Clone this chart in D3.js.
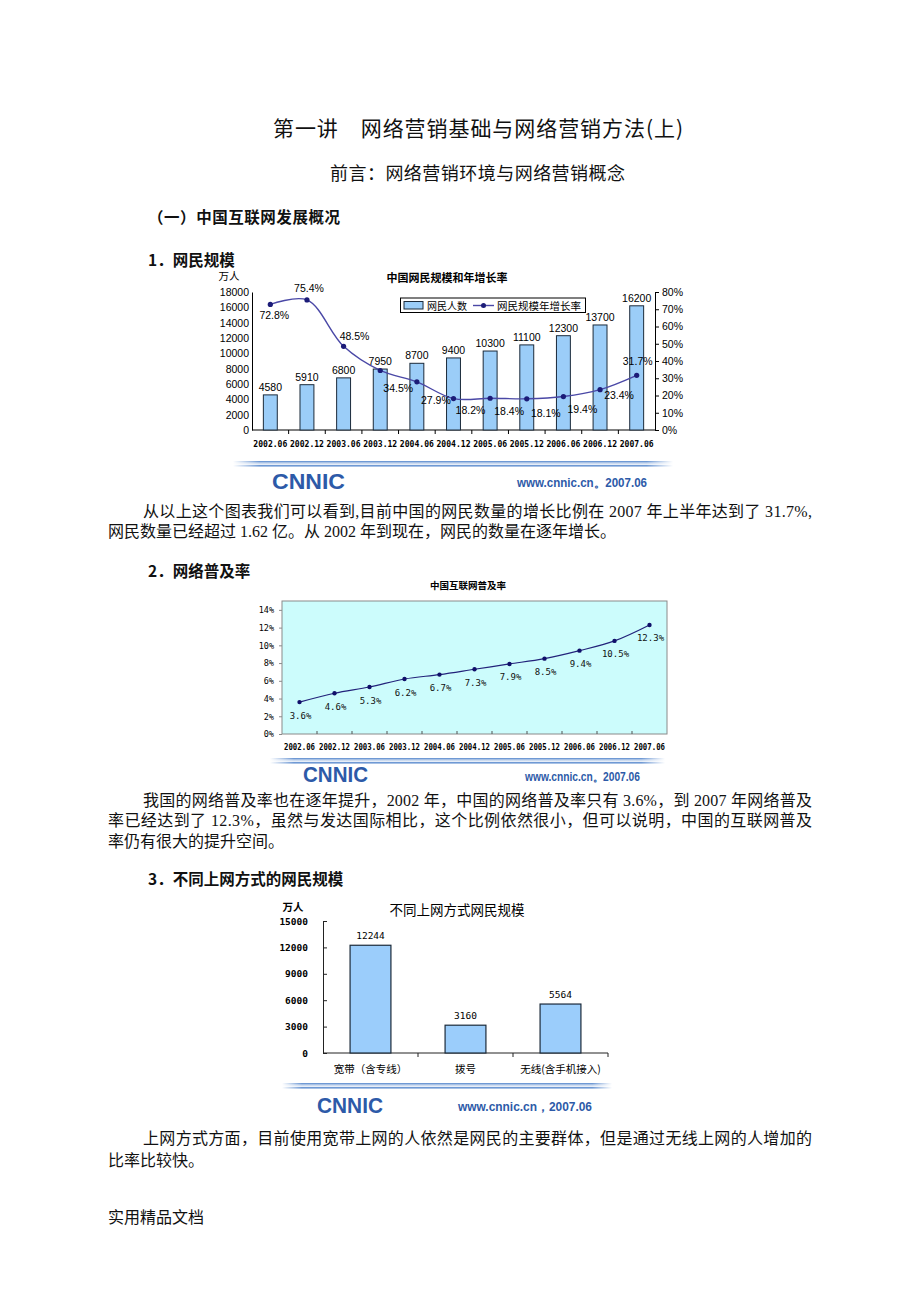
<!DOCTYPE html>
<meta charset="UTF-8">
<style>
body { margin: 0; background: #fff; }
svg { display: block; }
.cjk { font-family: "Noto Sans CJK SC", sans-serif; }
.body-text { font-family: "Liberation Serif", "Noto Sans CJK SC", serif; font-size: 16px; fill: #111; }
.arial { font-family: "Liberation Sans", Arial, sans-serif; }
.mono { font-family: "DejaVu Sans Mono", monospace; }
</style>
<body>
<script src="https://cdnjs.cloudflare.com/ajax/libs/d3/7.8.5/d3.min.js"></script>
<script>
// ---- chart 1 / chart 2 categories ----
const periods = ["2002.06", "2002.12", "2003.06", "2003.12", "2004.06", "2004.12",
                 "2005.06", "2005.12", "2006.06", "2006.12", "2007.06"];

// chart 1: netizens (10k people) and yearly growth rate (%)
const netizens = [4580, 5910, 6800, 7950, 8700, 9400, 10300, 11100, 12300, 13700, 16200];
const growthRate = [72.8, 75.4, 48.5, 34.5, 27.9, 18.2, 18.4, 18.1, 19.4, 23.4, 31.7];
const netizenTicks = [0, 2000, 4000, 6000, 8000, 10000, 12000, 14000, 16000, 18000];
const rateTicks = [0, 10, 20, 30, 40, 50, 60, 70, 80];

// chart 2: internet penetration (%)
const penetration = [3.6, 4.6, 5.3, 6.2, 6.7, 7.3, 7.9, 8.5, 9.4, 10.5, 12.3];
const penetrationTicks = [0, 2, 4, 6, 8, 10, 12, 14];

// chart 3: netizens by access type (10k people)
const accessTypes = ["宽带（含专线）", "拨号", "无线(含手机接入)"];
const accessUsers = [12244, 3160, 5564];
const accessTicks = [0, 3000, 6000, 9000, 12000, 15000];

// where the growth-rate labels sit relative to their point (layout only)
const rateLabelDx = [4, 2, 11, 18, 19, 17, 19, 19, 19, 19, 1];
const rateLabelDy = [11, -12, -10, 18, 18, 11, 13, 14, 12, 5, -14];

const W = 920, H = 1302;
const svg = d3.select("body").append("svg").attr("width", W).attr("height", H);

const defs = svg.append("defs");
const sep = defs.append("linearGradient").attr("id", "sep");
sep.selectAll("stop").data([[0, 0], [0.06, 1], [0.94, 1], [1, 0]]).join("stop")
  .attr("offset", d => d[0]).attr("stop-color", "#6f99d4").attr("stop-opacity", d => d[1]);

// ---------- page text ----------
function line(x, y, s, cls, size, weight, len) {
  const t = svg.append("text").attr("class", cls).attr("x", x).attr("y", y)
    .attr("dominant-baseline", "central").attr("font-size", size)
    .attr("font-weight", weight || "normal").attr("fill", "#111").text(s);
  if (len) t.attr("textLength", len).attr("lengthAdjust", "spacing");
  return t;
}

line(273, 127, "第一讲　网络营销基础与网络营销方法(上)", "cjk", 21, "normal", 410);
line(330, 172, "前言：网络营销环境与网络营销概念", "cjk", 18, "normal", 295);
line(148, 216, "（一）中国互联网发展概况", "cjk", 15.5, "bold", 192);
line(148, 259, "1．网民规模", "cjk", 15.5, "bold");

line(143, 511, "从以上这个图表我们可以看到,目前中国的网民数量的增长比例在 2007 年上半年达到了 31.7%,", "body-text", 16, "normal", 669);
line(108, 531, "网民数量已经超过 1.62 亿。从 2002 年到现在，网民的数量在逐年增长。", "body-text", 16);
line(148, 570, "2．网络普及率", "cjk", 15.5, "bold");

line(143, 800, "我国的网络普及率也在逐年提升，2002 年，中国的网络普及率只有 3.6%，到 2007 年网络普及", "body-text", 16, "normal", 669);
line(108, 820, "率已经达到了 12.3%，虽然与发达国际相比，这个比例依然很小，但可以说明，中国的互联网普及", "body-text", 16, "normal", 704);
line(108, 841, "率仍有很大的提升空间。", "body-text", 16);
line(148, 878, "3．不同上网方式的网民规模", "cjk", 15.5, "bold");

line(143, 1138, "上网方式方面，目前使用宽带上网的人依然是网民的主要群体，但是通过无线上网的人增加的", "body-text", 16, "normal", 669);
line(108, 1160, "比率比较快。", "body-text", 16);
line(108, 1217, "实用精品文档", "body-text", 14);

// separator + CNNIC logo under each chart image
function footer(x0, x1, ySep, logoX, logoW, logoY, urlX, urlW, urlY, url) {
  const g = svg.append("g");
  g.append("rect").attr("x", x0).attr("y", ySep).attr("width", x1 - x0).attr("height", 1.6).attr("fill", "url(#sep)");
  g.append("rect").attr("x", x0).attr("y", ySep + 2).attr("width", x1 - x0).attr("height", 1.5).attr("fill", "url(#sep)").attr("opacity", 0.35);
  g.append("rect").attr("x", x0).attr("y", ySep + 4).attr("width", x1 - x0).attr("height", 1.6).attr("fill", "url(#sep)");
  g.append("text").attr("class", "arial").attr("x", logoX).attr("y", logoY)
    .attr("dominant-baseline", "central").attr("font-size", 22).attr("font-weight", "bold")
    .attr("fill", "#2d5aa8").attr("textLength", logoW).attr("lengthAdjust", "spacingAndGlyphs").text("CNNIC");
  g.append("text").attr("class", "arial").attr("x", urlX).attr("y", urlY)
    .attr("dominant-baseline", "central").attr("font-size", 12).attr("font-weight", "bold")
    .attr("fill", "#2d5aa8").attr("textLength", urlW).attr("lengthAdjust", "spacingAndGlyphs").text(url);
}

// ---------- chart 1: 中国网民规模和年增长率 ----------
const c1 = svg.append("g");
const x1 = d3.scaleBand().domain(periods).range([252, 655]).paddingInner(0.62).paddingOuter(0.31);
const yCount = d3.scaleLinear().domain([0, 18000]).range([430, 292]);
const yRate = d3.scaleLinear().domain([0, 80]).range([430, 292]);
const cx1 = d => x1(d) + x1.bandwidth() / 2;

c1.append("text").attr("class", "cjk").attr("x", 447).attr("y", 277).attr("text-anchor", "middle")
  .attr("dominant-baseline", "central").attr("font-size", 11).attr("font-weight", "bold").text("中国网民规模和年增长率");
c1.append("text").attr("class", "cjk").attr("x", 229).attr("y", 275).attr("text-anchor", "middle")
  .attr("dominant-baseline", "central").attr("font-size", 10.5).text("万人");

c1.append("g").attr("transform", "translate(252,0)")
  .call(d3.axisLeft(yCount).tickValues(netizenTicks).tickSize(0).tickSizeOuter(0).tickPadding(3).tickFormat(d3.format("d")))
  .attr("font-family", "Liberation Sans, Arial").attr("font-size", 10.5)
  .call(g => g.select(".domain").attr("stroke", "#000"));

c1.append("g").attr("transform", "translate(655,0)")
  .call(d3.axisRight(yRate).tickValues(rateTicks).tickSize(4).tickSizeOuter(0).tickPadding(3).tickFormat(d => d + "%"))
  .attr("font-family", "Liberation Sans, Arial").attr("font-size", 10.5)
  .call(g => g.select(".domain").attr("stroke", "#000"));

// bottom axis: line, boundary ticks, labels
c1.append("line").attr("x1", x1.range()[0]).attr("x2", x1.range()[1]).attr("y1", 430).attr("y2", 430).attr("stroke", "#000");
c1.selectAll(".b1").data(d3.range(1, periods.length)).join("line")
  .attr("x1", i => x1.range()[0] + i * x1.step()).attr("x2", i => x1.range()[0] + i * x1.step())
  .attr("y1", 430).attr("y2", 434).attr("stroke", "#000");
c1.selectAll(".xl1").data(periods).join("text").attr("class", "mono")
  .attr("x", cx1).attr("y", 444).attr("text-anchor", "middle").attr("dominant-baseline", "central")
  .attr("font-size", 8.2).attr("font-weight", "bold").attr("textLength", 34).attr("lengthAdjust", "spacingAndGlyphs")
  .text(d => d);

c1.selectAll(".bar1").data(netizens).join("rect")
  .attr("x", (v, i) => x1(periods[i])).attr("y", v => yCount(v))
  .attr("width", x1.bandwidth()).attr("height", v => yCount(0) - yCount(v))
  .attr("fill", "#9bcdf8").attr("stroke", "#1b2a3a").attr("stroke-width", 1);
c1.selectAll(".bl1").data(netizens).join("text").attr("class", "arial")
  .attr("x", (v, i) => cx1(periods[i])).attr("y", v => yCount(v) - 8)
  .attr("text-anchor", "middle").attr("dominant-baseline", "central").attr("font-size", 10.5).text(v => v);

const rateLine = d3.line().x((v, i) => cx1(periods[i])).y(v => yRate(v)).curve(d3.curveCatmullRom.alpha(0.5));
c1.append("path").datum(growthRate).attr("d", rateLine).attr("fill", "none").attr("stroke", "#4a48a6").attr("stroke-width", 1.4);
c1.selectAll(".pt1").data(growthRate).join("circle")
  .attr("cx", (v, i) => cx1(periods[i])).attr("cy", v => yRate(v)).attr("r", 2.6).attr("fill", "#1c1c78");
c1.selectAll(".rl1").data(growthRate).join("text").attr("class", "arial")
  .attr("x", (v, i) => cx1(periods[i]) + rateLabelDx[i]).attr("y", (v, i) => yRate(v) + rateLabelDy[i])
  .attr("text-anchor", "middle").attr("dominant-baseline", "central").attr("font-size", 10.5)
  .text(v => v.toFixed(1) + "%");

// legend
const lg = c1.append("g");
lg.append("rect").attr("x", 400.5).attr("y", 298).attr("width", 185).attr("height", 14.5).attr("fill", "#fff").attr("stroke", "#000");
lg.append("rect").attr("x", 404).attr("y", 301.5).attr("width", 19).attr("height", 7.5).attr("fill", "#9bcdf8").attr("stroke", "#1b2a3a");
lg.append("text").attr("class", "cjk").attr("x", 427).attr("y", 305.5).attr("dominant-baseline", "central").attr("font-size", 10).text("网民人数");
lg.append("line").attr("x1", 473).attr("x2", 494).attr("y1", 305.5).attr("y2", 305.5).attr("stroke", "#4a48a6").attr("stroke-width", 1.4);
lg.append("circle").attr("cx", 483.5).attr("cy", 305.5).attr("r", 2.5).attr("fill", "#1c1c78");
lg.append("text").attr("class", "cjk").attr("x", 497).attr("y", 305.5).attr("dominant-baseline", "central").attr("font-size", 10.5).text("网民规模年增长率");

footer(233, 673, 461, 272, 73, 481, 517, 130, 483, "www.cnnic.cn。2007.06");

// ---------- chart 2: 中国互联网普及率 ----------
const c2 = svg.append("g");
const x2 = d3.scalePoint().domain(periods).range([282, 667]).padding(0.5);
const y2 = d3.scaleLinear().domain([0, 15]).range([734, 601]);

c2.append("text").attr("class", "cjk").attr("x", 468).attr("y", 585).attr("text-anchor", "middle")
  .attr("dominant-baseline", "central").attr("font-size", 9.5).attr("font-weight", "bold").text("中国互联网普及率");
c2.append("rect").attr("x", 282).attr("y", y2(15)).attr("width", 385).attr("height", y2(0) - y2(15))
  .attr("fill", "#ccfcfc").attr("stroke", "#8a8a8a");

c2.append("g").attr("transform", "translate(282,0)")
  .call(d3.axisLeft(y2).tickValues(penetrationTicks).tickSize(3).tickSizeOuter(0).tickPadding(5).tickFormat(d => d + "%"))
  .attr("font-family", "DejaVu Sans Mono, monospace").attr("font-size", 8.5)
  .call(g => g.select(".domain").remove())
  .call(g => g.selectAll(".tick line").attr("stroke", "#8a8a8a"));

c2.selectAll(".b2").data(d3.range(1, periods.length)).join("line")
  .attr("x1", i => 282 + i * x2.step()).attr("x2", i => 282 + i * x2.step())
  .attr("y1", y2(0)).attr("y2", y2(0) - 3).attr("stroke", "#555");
c2.selectAll(".xl2").data(periods).join("text").attr("class", "mono")
  .attr("x", d => x2(d)).attr("y", 747).attr("text-anchor", "middle").attr("dominant-baseline", "central")
  .attr("font-size", 8).attr("font-weight", "bold").attr("textLength", 31).attr("lengthAdjust", "spacingAndGlyphs")
  .text(d => d);

const penLine = d3.line().x((v, i) => x2(periods[i])).y(v => y2(v)).curve(d3.curveCatmullRom.alpha(0.5));
c2.append("path").datum(penetration).attr("d", penLine).attr("fill", "none").attr("stroke", "#22227a").attr("stroke-width", 1.2);
c2.selectAll(".pt2").data(penetration).join("circle")
  .attr("cx", (v, i) => x2(periods[i])).attr("cy", v => y2(v)).attr("r", 2.2).attr("fill", "#10106a");
c2.selectAll(".pl2").data(penetration).join("text").attr("class", "mono")
  .attr("x", (v, i) => x2(periods[i]) + 1).attr("y", v => y2(v) + 13.5)
  .attr("text-anchor", "middle").attr("dominant-baseline", "central").attr("font-size", 9).attr("fill", "#111")
  .text(v => v.toFixed(1) + "%");

footer(270, 665, 758, 303, 65, 774, 525, 115, 777, "www.cnnic.cn。2007.06");

// ---------- chart 3: 不同上网方式网民规模 ----------
const c3 = svg.append("g");
const x3 = d3.scaleBand().domain(accessTypes).range([323, 608]).paddingInner(0.57).paddingOuter(0.285);
const y3 = d3.scaleLinear().domain([0, 15000]).range([1053, 921]);
const cx3 = d => x3(d) + x3.bandwidth() / 2;

c3.append("text").attr("class", "cjk").attr("x", 457).attr("y", 909).attr("text-anchor", "middle")
  .attr("dominant-baseline", "central").attr("font-size", 13.5).text("不同上网方式网民规模");
c3.append("text").attr("class", "cjk").attr("x", 293).attr("y", 906).attr("text-anchor", "middle")
  .attr("dominant-baseline", "central").attr("font-size", 10.5).attr("font-weight", "bold").text("万人");

c3.append("g").attr("transform", "translate(323,0)")
  .call(d3.axisLeft(y3).tickValues(accessTicks).tickSize(-4).tickSizeOuter(0).tickPadding(15).tickFormat(d3.format("d")))
  .attr("font-family", "DejaVu Sans Mono, monospace").attr("font-size", 9.5).attr("font-weight", "bold")
  .call(g => g.select(".domain").attr("stroke", "#222"))
  .call(g => g.selectAll(".tick line").attr("stroke", "#222"));

c3.append("line").attr("x1", 323).attr("x2", 608).attr("y1", 1053).attr("y2", 1053).attr("stroke", "#222");
c3.selectAll(".b3").data(d3.range(1, accessTypes.length + 1)).join("line")
  .attr("x1", i => 323 + i * x3.step()).attr("x2", i => 323 + i * x3.step())
  .attr("y1", 1053).attr("y2", 1057).attr("stroke", "#222");

c3.selectAll(".bar3").data(accessUsers).join("rect")
  .attr("x", (v, i) => x3(accessTypes[i])).attr("y", v => y3(v))
  .attr("width", x3.bandwidth()).attr("height", v => y3(0) - y3(v))
  .attr("fill", "#9bcdfb").attr("stroke", "#1b2a3a").attr("stroke-width", 1.2);
c3.selectAll(".bl3").data(accessUsers).join("text").attr("class", "mono")
  .attr("x", (v, i) => cx3(accessTypes[i])).attr("y", v => y3(v) - 10)
  .attr("text-anchor", "middle").attr("dominant-baseline", "central").attr("font-size", 9.5).text(v => v);
c3.selectAll(".xl3").data(accessTypes).join("text").attr("class", "cjk")
  .attr("x", cx3).attr("y", 1068).attr("text-anchor", "middle").attr("dominant-baseline", "central")
  .attr("font-size", 10.5).text(d => d);

footer(282, 612, 1083, 317, 66, 1105, 458, 134, 1107, "www.cnnic.cn，2007.06");
</script>
</body>
